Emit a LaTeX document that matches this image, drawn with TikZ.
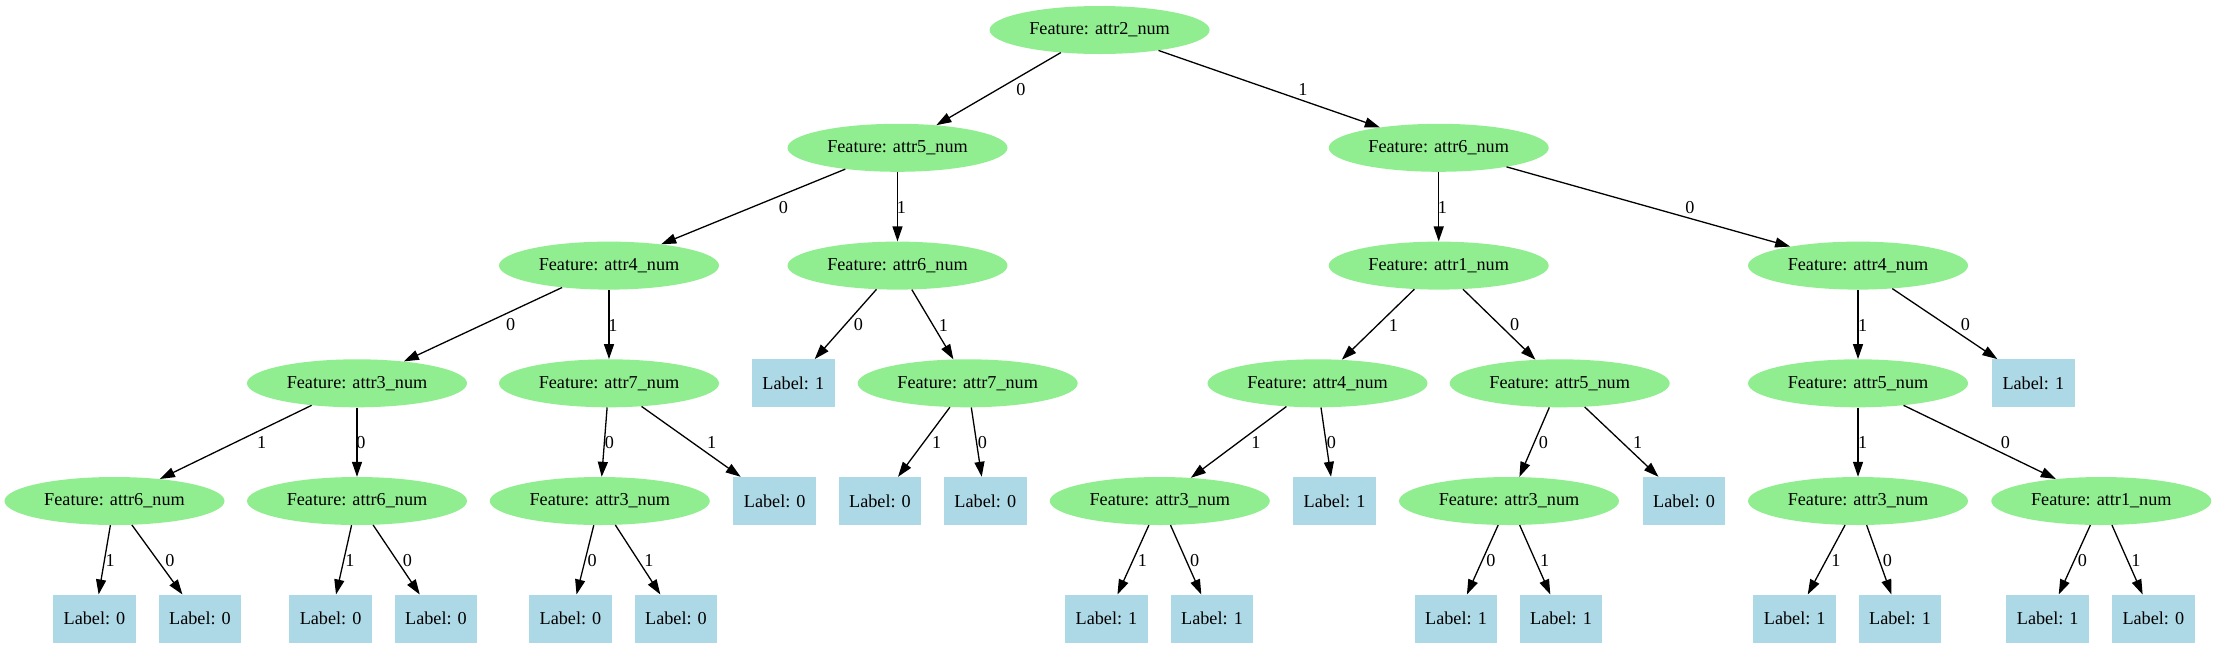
\documentclass[tikz,border=0pt]{standalone}
\usepackage{fontspec}
\setmainfont{Liberation Serif}
\usetikzlibrary{shapes.geometric,arrows.meta}
\definecolor{featgreen}{HTML}{90EE90}
\definecolor{leafblue}{HTML}{ADD8E6}
\tikzset{
  feat/.style={ellipse, fill=featgreen, draw=none, minimum width=220pt, minimum height=48pt, inner sep=0pt, font=\fontsize{18.2}{22}\selectfont},
  leaf/.style={rectangle, fill=leafblue, draw=none, minimum width=82.5pt, minimum height=48pt, inner sep=0pt, font=\fontsize{18.2}{22}\selectfont},
  edge/.style={line width=1.3pt, -{Triangle[length=15pt,width=10pt]}},
  lbl/.style={inner sep=0pt, font=\fontsize{18.2}{22}\selectfont},
}
\newcommand\edgelab[6]{\draw[edge] (#1) -- (#2); \node[lbl] (#6) at (#3,#4) {#5};}
\begin{document}
\begin{tikzpicture}[x=1pt,y=-1pt]
\useasboundingbox (0,0) rectangle (2216,649);
% row 0
\node[feat] (root) at (1099.6,30) {Feature: attr2\_num};
% row 1
\node[feat] (a5) at (897.5,147.8) {Feature: attr5\_num};
\node[feat] (a6) at (1438.7,147.8) {Feature: attr6\_num};
% row 2
\node[feat] (a4) at (609,265.6) {Feature: attr4\_num};
\node[feat] (a6b) at (897.5,265.6) {Feature: attr6\_num};
\node[feat] (a1) at (1438.7,265.6) {Feature: attr1\_num};
\node[feat] (a4b) at (1858,265.6) {Feature: attr4\_num};
% row 3
\node[feat] (a3) at (357,383.3) {Feature: attr3\_num};
\node[feat] (a7) at (609,383.3) {Feature: attr7\_num};
\node[leaf] (L1a) at (793.3,383.3) {Label: 1};
\node[feat] (a7b) at (967.7,383.3) {Feature: attr7\_num};
\node[feat] (a4c) at (1317.5,383.3) {Feature: attr4\_num};
\node[feat] (a5b) at (1559.7,383.3) {Feature: attr5\_num};
\node[feat] (a5c) at (1858,383.3) {Feature: attr5\_num};
\node[leaf] (L1b) at (2033.3,383.3) {Label: 1};
% row 4
\node[feat] (a6c) at (114.5,501) {Feature: attr6\_num};
\node[feat] (a6d) at (357,501) {Feature: attr6\_num};
\node[feat] (a3b) at (599.8,501) {Feature: attr3\_num};
\node[leaf] (L0a) at (774.7,501) {Label: 0};
\node[leaf] (L0b) at (880,501) {Label: 0};
\node[leaf] (L0c) at (985.3,501) {Label: 0};
\node[feat] (a3c) at (1159.8,501) {Feature: attr3\_num};
\node[leaf] (L1c) at (1334.5,501) {Label: 1};
\node[feat] (a3d) at (1509,501) {Feature: attr3\_num};
\node[leaf] (L0d) at (1684,501) {Label: 0};
\node[feat] (a3e) at (1858,501) {Feature: attr3\_num};
\node[feat] (a1b) at (2101.3,501) {Feature: attr1\_num};
% row 5
\node[leaf] (m1) at (94.5,618.7) {Label: 0};
\node[leaf] (m2) at (200,618.7) {Label: 0};
\node[leaf] (m3) at (330.6,618.7) {Label: 0};
\node[leaf] (m4) at (436,618.7) {Label: 0};
\node[leaf] (m5) at (570.5,618.7) {Label: 0};
\node[leaf] (m6) at (676,618.7) {Label: 0};
\node[leaf] (m7) at (1106.5,618.7) {Label: 1};
\node[leaf] (m8) at (1212,618.7) {Label: 1};
\node[leaf] (m9) at (1456,618.7) {Label: 1};
\node[leaf] (m10) at (1561,618.7) {Label: 1};
\node[leaf] (m11) at (1794.7,618.7) {Label: 1};
\node[leaf] (m12) at (1900,618.7) {Label: 1};
\node[leaf] (m13) at (2047.7,618.7) {Label: 1};
\node[leaf] (m14) at (2153.3,618.7) {Label: 0};
% edges
\edgelab{root}{a5}{1021}{89.6}{0}{e1}
\edgelab{root}{a6}{1303}{89.6}{1}{e2}
\edgelab{a5}{a4}{783.3}{207.3}{0}{e3}
\edgelab{a5}{a6b}{901.3}{207.3}{1}{e4}
\edgelab{a6}{a1}{1442.3}{207.3}{1}{e5}
\edgelab{a6}{a4b}{1690}{207.3}{0}{e6}
\edgelab{a4}{a3}{510.7}{325}{0}{e7}
\edgelab{a4}{a7}{613}{325}{1}{e8}
\edgelab{a6b}{L1a}{858.3}{325}{0}{e9}
\edgelab{a6b}{a7b}{943.3}{325}{1}{e10}
\edgelab{a1}{a4c}{1393.3}{325}{1}{e11}
\edgelab{a1}{a5b}{1514.7}{325}{0}{e12}
\edgelab{a4b}{a5c}{1862.7}{325}{1}{e13}
\edgelab{a4b}{L1b}{1965.3}{325}{0}{e14}
\edgelab{a3}{a6c}{261.7}{442.7}{1}{e15}
\edgelab{a3}{a6d}{361}{442.7}{0}{e16}
\edgelab{a7}{a3b}{609.3}{442.7}{0}{e17}
\edgelab{a7}{L0a}{711.7}{442.7}{1}{e18}
\edgelab{a7b}{L0b}{936.7}{442.7}{1}{e19}
\edgelab{a7b}{L0c}{982.3}{442.7}{0}{e20}
\edgelab{a4c}{a3c}{1256}{442.7}{1}{e21}
\edgelab{a4c}{L1c}{1331.3}{442.7}{0}{e22}
\edgelab{a5b}{a3d}{1543.3}{442.7}{0}{e23}
\edgelab{a5b}{L0d}{1637.7}{442.7}{1}{e24}
\edgelab{a5c}{a3e}{1862.7}{442.7}{1}{e25}
\edgelab{a5c}{a1b}{2005.3}{442.7}{0}{e26}
\edgelab{a6c}{m1}{110.2}{560.4}{1}{e27}
\edgelab{a6c}{m2}{170}{560.4}{0}{e28}
\edgelab{a6d}{m3}{349.8}{560.4}{1}{e29}
\edgelab{a6d}{m4}{407.4}{560.4}{0}{e30}
\edgelab{a3b}{m5}{592.2}{560.4}{0}{e31}
\edgelab{a3b}{m6}{649}{560.4}{1}{e32}
\edgelab{a3c}{m7}{1142.3}{560.4}{1}{e33}
\edgelab{a3c}{m8}{1194.6}{560.4}{0}{e34}
\edgelab{a3d}{m9}{1491}{560.4}{0}{e35}
\edgelab{a3d}{m10}{1544.7}{560.4}{1}{e36}
\edgelab{a3e}{m11}{1835.9}{560.4}{1}{e37}
\edgelab{a3e}{m12}{1887.4}{560.4}{0}{e38}
\edgelab{a1b}{m13}{2082.5}{560.4}{0}{e39}
\edgelab{a1b}{m14}{2135.9}{560.4}{1}{e40}
\end{tikzpicture}
\end{document}
